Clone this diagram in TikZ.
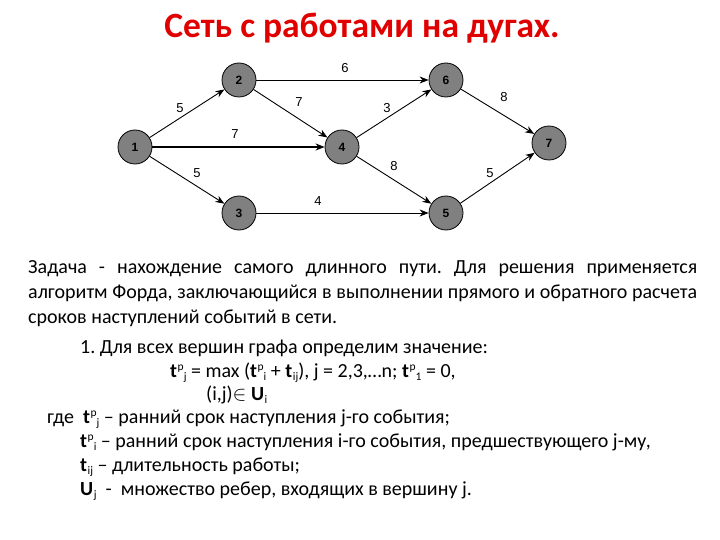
\documentclass[tikz,border=0pt]{standalone}
\usepackage{fontspec}
\setmainfont{Carlito}
\newfontfamily\arialf{Liberation Sans}
\usetikzlibrary{arrows.meta}
\definecolor{nodegray}{RGB}{128,128,128}
\definecolor{titlered}{RGB}{225,0,0}
\tikzset{
  ev/.style={circle,draw=black,line width=0.8pt,fill=nodegray,minimum size=34pt,inner sep=0pt,font=\arialf\bfseries\fontsize{12}{12}\selectfont},
  arc/.style={draw=black,line width=0.9pt,-{Stealth[length=9pt,width=7pt]}},
  wt/.style={font=\arialf\fontsize{13}{13}\selectfont,inner sep=0pt},
  body/.style={font=\fontsize{20}{25}\selectfont,inner sep=0pt,anchor=base west}
}
\newcommand{\scr}{\fontsize{11.5}{11.5}\selectfont}
\newcommand{\tp}[1]{\textbf{t}\hspace{0.6pt}\raisebox{7pt}{\scr р}\raisebox{-3pt}{\scr #1}}
\newcommand{\sbx}[2]{\textbf{#1}\hspace{0.6pt}\raisebox{-3pt}{\scr #2}}
\frenchspacing
\begin{document}
\begin{tikzpicture}[x=1pt,y=-1pt]
\useasboundingbox (0,0) rectangle (720,540);
\fill[white] (0,0) rectangle (720,540);
% title
\node[font=\fontsize{35.5}{36}\selectfont\bfseries,text=titlered,anchor=base,inner sep=0pt] (title) at (362,38) {Сеть с работами на дугах.};
% graph
\node[ev] (n1) at (135,147) {1};
\node[ev] (n2) at (239,80) {2};
\node[ev] (n3) at (239,213) {3};
\node[ev] (n4) at (342,147) {4};
\node[ev] (n5) at (446,213) {5};
\node[ev] (n6) at (446,80) {6};
\node[ev] (n7) at (549,143) {7};
\draw[arc] (n1) -- (n2);
\draw[arc,line width=1.6pt] (n1) -- (n4);
\draw[arc] (n1) -- (n3);
\draw[arc] (n2) -- (n6);
\draw[arc] (n2) -- (n4);
\draw[arc] (n4) -- (n6);
\draw[arc] (n4) -- (n5);
\draw[arc] (n3) -- (n5);
\draw[arc] (n6) -- (n7);
\draw[arc] (n5) -- (n7);
\node[wt] (w26) at (345,68) {6};
\node[wt] (w12) at (180,108) {5};
\node[wt] (w24) at (299,102) {7};
\node[wt] (w46) at (387,108) {3};
\node[wt] (w67) at (504,97) {8};
\node[wt] (w14) at (235,134) {7};
\node[wt] (w45) at (394,166) {8};
\node[wt] (w13) at (197,173) {5};
\node[wt] (w57) at (490,173) {5};
\node[wt] (w35) at (318,201) {4};
% text
\node[font=\fontsize{20}{25}\selectfont,inner sep=0pt,anchor=north west,text width=669pt,align=justify] (par) at (28,260)
{Задача - нахождение самого длинного пути. Для решения применяется\linebreak алгоритм Форда, заключающийся в выполнении прямого и обратного расчета\linebreak сроков наступлений событий в сети.};
\node[body] (l4) at (80,353) {1. Для всех вершин графа определим значение:};
\node[body] (l5) at (170,377) {\tp{j} = max (\tp{i} + \sbx{t}{ij}), j = 2,3,…n; \tp{1} = 0,};
\node[body] (l6) at (206,400) {(i,j)$\in$ \sbx{U}{i}};
\node[body] (l7) at (47,423) {где \ \tp{j} – ранний срок наступления j-го события;};
\node[body] (l8) at (80,447) {\tp{i} – ранний срок наступления i-го события, предшествующего j-му,};
\node[body] (l9) at (80,471) {\sbx{t}{ij} – длительность работы;};
\node[body] (l10) at (80,495) {\sbx{U}{j} \ - \ множество ребер, входящих в вершину j.};
\end{tikzpicture}
\end{document}
